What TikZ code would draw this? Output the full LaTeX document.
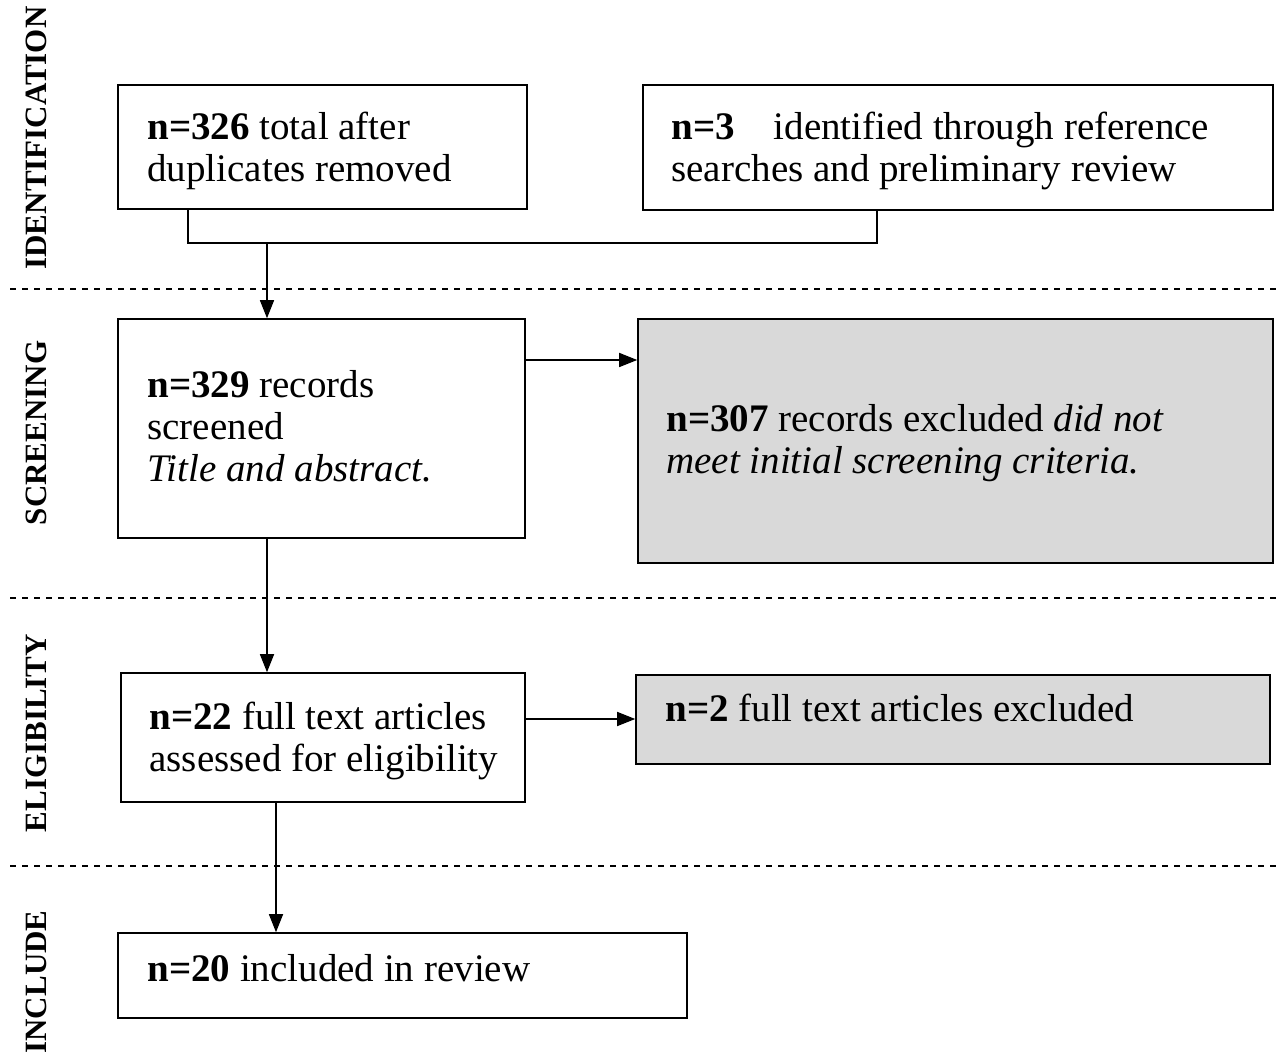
\documentclass[tikz,border=0pt]{standalone}
\usepackage{fontspec}
\setmainfont{Liberation Serif}
\usetikzlibrary{fit,arrows.meta}
\begin{document}
\begin{tikzpicture}[x=0.5pt,y=-0.5pt,
 box/.style={draw,line width=0.8pt,inner sep=0pt},
 gbox/.style={box,fill=gray!30},
 txt/.style={anchor=north west,align=left,inner sep=0pt,font=\fontsize{19.5}{21}\selectfont},
 side/.style={rotate=90,font=\fontsize{15.5}{18}\selectfont\bfseries},
 sep/.style={dashed,line width=0.6pt},
 arr/.style={-{Triangle[length=9pt,width=7pt]},line width=0.8pt},
 ln/.style={line width=0.8pt}]
\useasboundingbox (0,0) rectangle (1280,1058);
\coordinate (a1) at (118,85); \coordinate (a2) at (527,209);
\node[box,fit=(a1)(a2)] (b1) {};
\coordinate (c1) at (643,85); \coordinate (c2) at (1273,210);
\node[box,fit=(c1)(c2)] (b2) {};
\coordinate (d1) at (118,319); \coordinate (d2) at (525,538);
\node[box,fit=(d1)(d2)] (b3) {};
\coordinate (e1) at (638,319); \coordinate (e2) at (1273,563);
\node[gbox,fit=(e1)(e2)] (b4) {};
\coordinate (f1) at (121,673); \coordinate (f2) at (525,802);
\node[box,fit=(f1)(f2)] (b5) {};
\coordinate (g1) at (636,675); \coordinate (g2) at (1270,764);
\node[gbox,fit=(g1)(g2)] (b6) {};
\coordinate (h1) at (118,933); \coordinate (h2) at (687,1018);
\node[box,fit=(h1)(h2)] (b7) {};

\node[txt] (t1) at (147,112) {\textbf{n=326} total after\\duplicates removed};
\node[txt] (t2) at (671,112) {\textbf{n=3}\quad identified through reference\\searches and preliminary review};
\node[txt] (t3) at (147,370) {\textbf{n=329} records\\screened\\\textit{Title and abstract.}};
\node[txt] (t4) at (666,404) {\textbf{n=307} records excluded \textit{did not}\\\textit{meet initial screening criteria.}};
\node[txt] (t5) at (149,702) {\textbf{n=22} full text articles\\assessed for eligibility};
\node[txt] (t6) at (665,694) {\textbf{n=2} full text articles excluded};
\node[txt] (t7) at (147,954) {\textbf{n=20} included in review};

\node[side] (s1) at (36,138) {IDENTIFICATION};
\node[side] (s2) at (36,433) {SCREENING};
\node[side] (s3) at (36,733) {ELIGIBILITY};
\node[side] (s4) at (36,982) {INCLUDE};

\draw[sep] (10,289) -- (1280,289);
\draw[sep] (10,598) -- (1280,598);
\draw[sep] (10,866) -- (1280,866);

\coordinate (j1) at (188,243); \coordinate (j2) at (877,243);
\draw[ln] (b1.south -| j1) -- (j1) -- (j2) -- (b2.south -| j2);
\draw[arr] (267,243) -- (b3.north -| 267,0);
\draw[arr] (b3.east |- 0,360) -- (b4.west |- 0,360);
\draw[arr] (b3.south -| 267,0) -- (b5.north -| 267,0);
\draw[arr] (b5.east |- 0,719) -- (b6.west |- 0,719);
\draw[arr] (b5.south -| 276,0) -- (b7.north -| 276,0);
\end{tikzpicture}
\end{document}
